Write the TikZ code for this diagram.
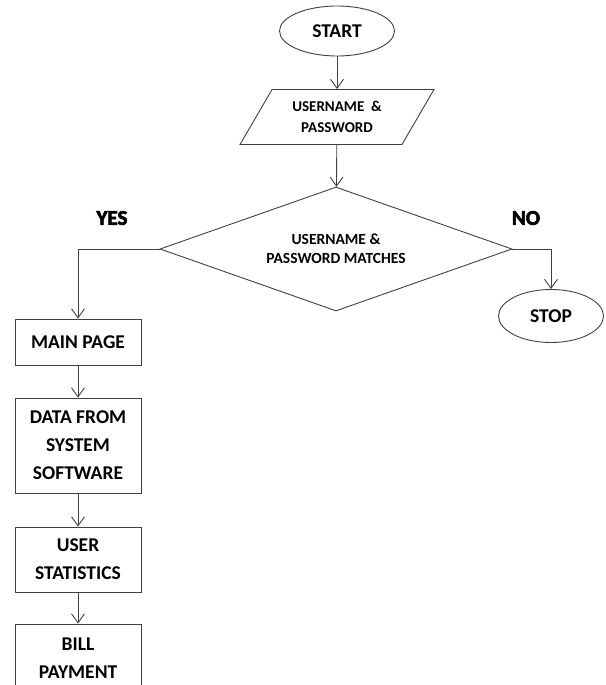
\documentclass[tikz,border=0pt]{standalone}
\usepackage{fontspec}
\setmainfont{Carlito}
\newfontfamily\heavyfont[FakeBold=3]{Carlito Bold}
\usetikzlibrary{shapes.geometric, arrows.meta}

\begin{document}
\begin{tikzpicture}[x=1pt, y=-1pt, line width=0.9pt, >={Straight Barb[length=9pt, width=13pt]},
    flowline/.style={draw=black!75, ->},
    terminal/.style={draw=black!75, ellipse, inner sep=0pt, font=\bfseries\fontsize{19.5}{24}\selectfont},
    process/.style={draw=black!75, rectangle, minimum width=126, inner sep=0pt, align=center, font=\bfseries\fontsize{19.5}{28}\selectfont},
    answer/.style={font=\heavyfont\fontsize{21}{24}\selectfont}]

    % Frame
    \useasboundingbox (0,0) rectangle (605,685);
    \clip (0,0) rectangle (605,685);

    % Nodes
    \node at (337, 31) (start) [terminal, minimum width=115, minimum height=50] {START};
    \node at (337, 117) (login) [draw=black!75, trapezium, trapezium left angle=55, trapezium right angle=125,
        trapezium stretches=true, minimum width=194, minimum height=55, inner sep=0pt, align=center,
        font=\bfseries\fontsize{15}{21}\selectfont] {USERNAME \ \&\\PASSWORD};
    \node at (336, 249) (check) [draw=black!75, diamond, aspect=2.84, minimum width=352, minimum height=124,
        inner sep=0pt, align=center, font=\bfseries\fontsize{15.5}{19}\selectfont] {USERNAME \&\\PASSWORD MATCHES};

    \node at (112, 218) (yes) [answer] {YES};
    \node at (526, 218) (no) [answer] {NO};
    \node at (551, 316) (stop) [terminal, minimum width=105, minimum height=53] {STOP};

    \node at (78, 342) (mainpage) [process, minimum height=46] {MAIN PAGE};
    \node at (78, 445.5) (sysdata) [process, minimum height=95] {DATA FROM\\SYSTEM\\SOFTWARE};
    \node at (78, 559.5) (userstats) [process, minimum height=65] {USER\\STATISTICS};
    \node at (78, 658) (billpay) [process, minimum height=68] {BILL\\PAYMENT};

    % Arrows
    \draw[flowline] (start) -- (login);
    \draw[flowline] (login) -- (check);
    \draw[flowline] (check.west) -| (mainpage.north);
    \draw[flowline] (check.east) -| (stop.north);

    \draw[flowline] (mainpage) -- (sysdata);
    \draw[flowline] (sysdata) -- (userstats);
    \draw[flowline] (userstats) -- (billpay);

\end{tikzpicture}
\end{document}
